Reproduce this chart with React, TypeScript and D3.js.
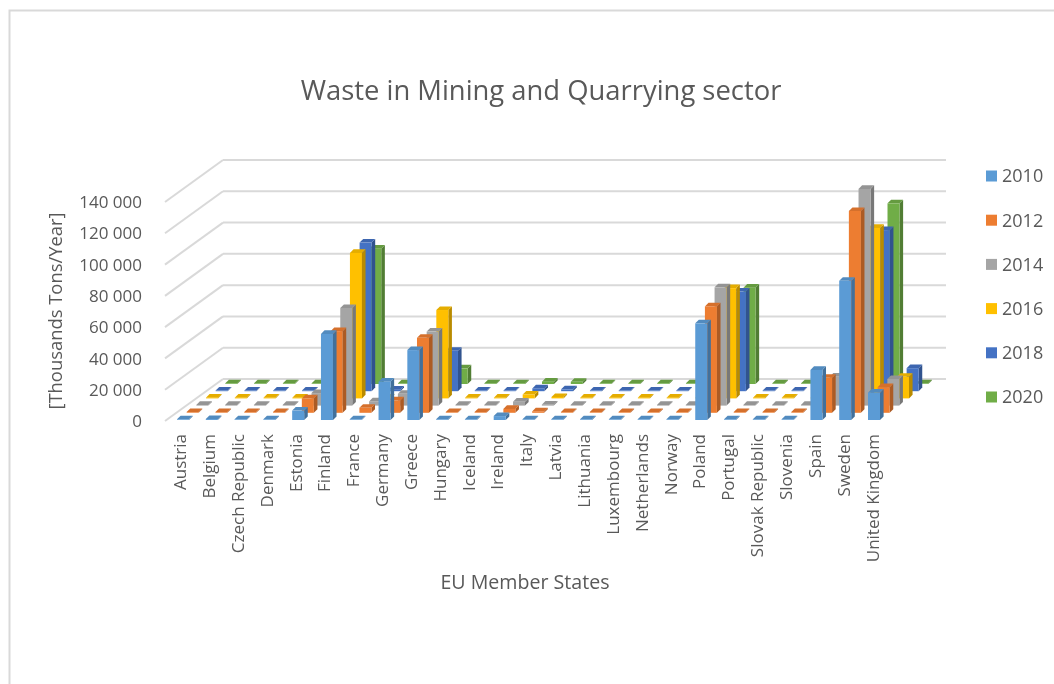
import React from "react";
import * as d3 from "d3";

const categories = ["Austria","Belgium","Czech Republic","Denmark","Estonia","Finland","France","Germany","Greece","Hungary","Iceland","Ireland","Italy","Latvia","Lithuania","Luxembourg","Netherlands","Norway","Poland","Portugal","Slovak Republic","Slovenia","Spain","Sweden","United Kingdom"];
const years = ["2010","2012","2014","2016","2018","2020"];
const colors = ["#5B9BD5","#ED7D31","#A5A5A5","#FFC000","#4472C4","#70AD47"];
const yTicks = [0,20000,40000,60000,80000,100000,120000,140000];

const v2010 = [0,600,0,0,6000,55000,0,24500,44700,0,0,2500,300,0,0,0,0,0,61800,0,0,0,32000,89000,17500];
const v2012 = [0,0,0,0,9200,52200,3200,7900,47900,0,0,2500,900,0,0,0,0,0,68000,0,0,0,22400,129000,16400];
const v2014 = [0,0,0,0,8000,62400,2700,7500,47300,0,0,2500,600,0,0,0,0,0,75600,0,0,0,18500,138500,17000];
const v2016 = [0,0,0,0,0,93000,0,0,56500,0,0,2500,900,0,0,0,0,0,70500,0,0,0,0,109000,13800];
const v2018 = [0,0,0,0,0,95000,1000,0,25800,0,0,1800,1200,0,0,0,0,0,63700,0,0,0,0,103000,14700];
const v2020 = [0,0,0,0,0,86500,0,0,10000,0,0,1500,1400,0,0,0,0,0,61600,0,0,0,0,115500,0];
const series = [v2010,v2012,v2014,v2016,v2018,v2020];

const FONT = "'Open Sans', sans-serif";
const TXT = "#595959";
const GRID = "#d9d9d9";

const xCat = d3.scaleLinear().domain([0, 24]).range([177, 868]);
const xDepth = d3.scaleLinear().domain([0, 5]).range([0, 48.3]);
const yDepth = d3.scaleLinear().domain([0, 5]).range([0, 36]);
const hVal = d3.scaleLinear().domain([0, 140000]).range([0, 219]);
const barW = 12;
const side = 3.6;

const pts = (p: [number, number][]) => d3.line()(p) + "Z";

function Bar({ cat, k, value }: { cat: number; k: number; value: number }) {
  const x = xCat(cat) + xDepth(k);
  const base = 420 - yDepth(k);
  const h = Math.max(hVal(value), 0.7);
  const top = base - h;
  const c = colors[k];
  const cTop = d3.color(c)!.darker(0.3).formatHex();
  const cSide = d3.color(c)!.darker(0.9).formatHex();
  return (
    <g>
      <path d={pts([[x + barW, base], [x + barW + side, base - side], [x + barW + side, top - side], [x + barW, top]])} fill={cSide} />
      <path d={pts([[x, top], [x + side, top - side], [x + barW + side, top - side], [x + barW, top]])} fill={cTop} />
      <rect x={x} y={top} width={barW} height={h} fill={c} />
    </g>
  );
}

export default function App() {
  const backY = d3.scaleLinear().domain([0, 140000]).range([379, 160]);
  const frontY = d3.scaleLinear().domain([0, 140000]).range([421, 202]);
  const order = d3.range(5, -1, -1);
  return (
    <svg width={1054} height={684} style={{ position: "absolute", left: 0, top: 0, display: "block", filter: "blur(0.4px)" }} fontFamily={FONT}>
      <rect width={1054} height={684} fill="#fff" />
      <path d="M1054,10.5H9.5V684" fill="none" stroke={GRID} strokeWidth={2} />
      <text x={541} y={100} textAnchor="middle" fontSize={27.4} fill={TXT}>Waste in Mining and Quarrying sector</text>
      {yTicks.map((t) => (
        <g key={t}>
          <line x1={223} x2={946} y1={backY(t)} y2={backY(t)} stroke={GRID} strokeWidth={2} />
          <line x1={223} x2={165} y1={backY(t)} y2={backY(t) + 42} stroke={GRID} strokeWidth={2} />
          <text x={142} y={frontY(t)} dy="0.36em" textAnchor="end" fontSize={17} fill={TXT}>
            {d3.format(",")(t).replace(/,/g, " ")}
          </text>
        </g>
      ))}
      {order.map((k) => (
        <g key={k}>
          {categories.map((_, i) => (
            <Bar key={i} cat={i} k={k} value={series[k][i]} />
          ))}
        </g>
      ))}
      {categories.map((c, i) => (
        <text key={c} transform={`translate(${180 + 28.85 * i},434) rotate(-90)`} dy="0.36em" textAnchor="end" fontSize={17} fill={TXT}>{c}</text>
      ))}
      <text transform="translate(55,311) rotate(-90)" dy="0.36em" textAnchor="middle" fontSize={18.4} fill={TXT}>[Thousands Tons/Year]</text>
      <text x={525} y={589} textAnchor="middle" fontSize={19.6} fill={TXT}>EU Member States</text>
      {years.map((y, k) => {
        const cy = d3.scaleLinear().domain([0, 5]).range([176, 397])(k);
        return (
          <g key={y}>
            <rect x={986} y={cy - 5.5} width={11} height={11} fill={colors[k]} />
            <text x={1002} y={cy} dy="0.36em" fontSize={18} fill={TXT}>{y}</text>
          </g>
        );
      })}
    </svg>
  );
}
